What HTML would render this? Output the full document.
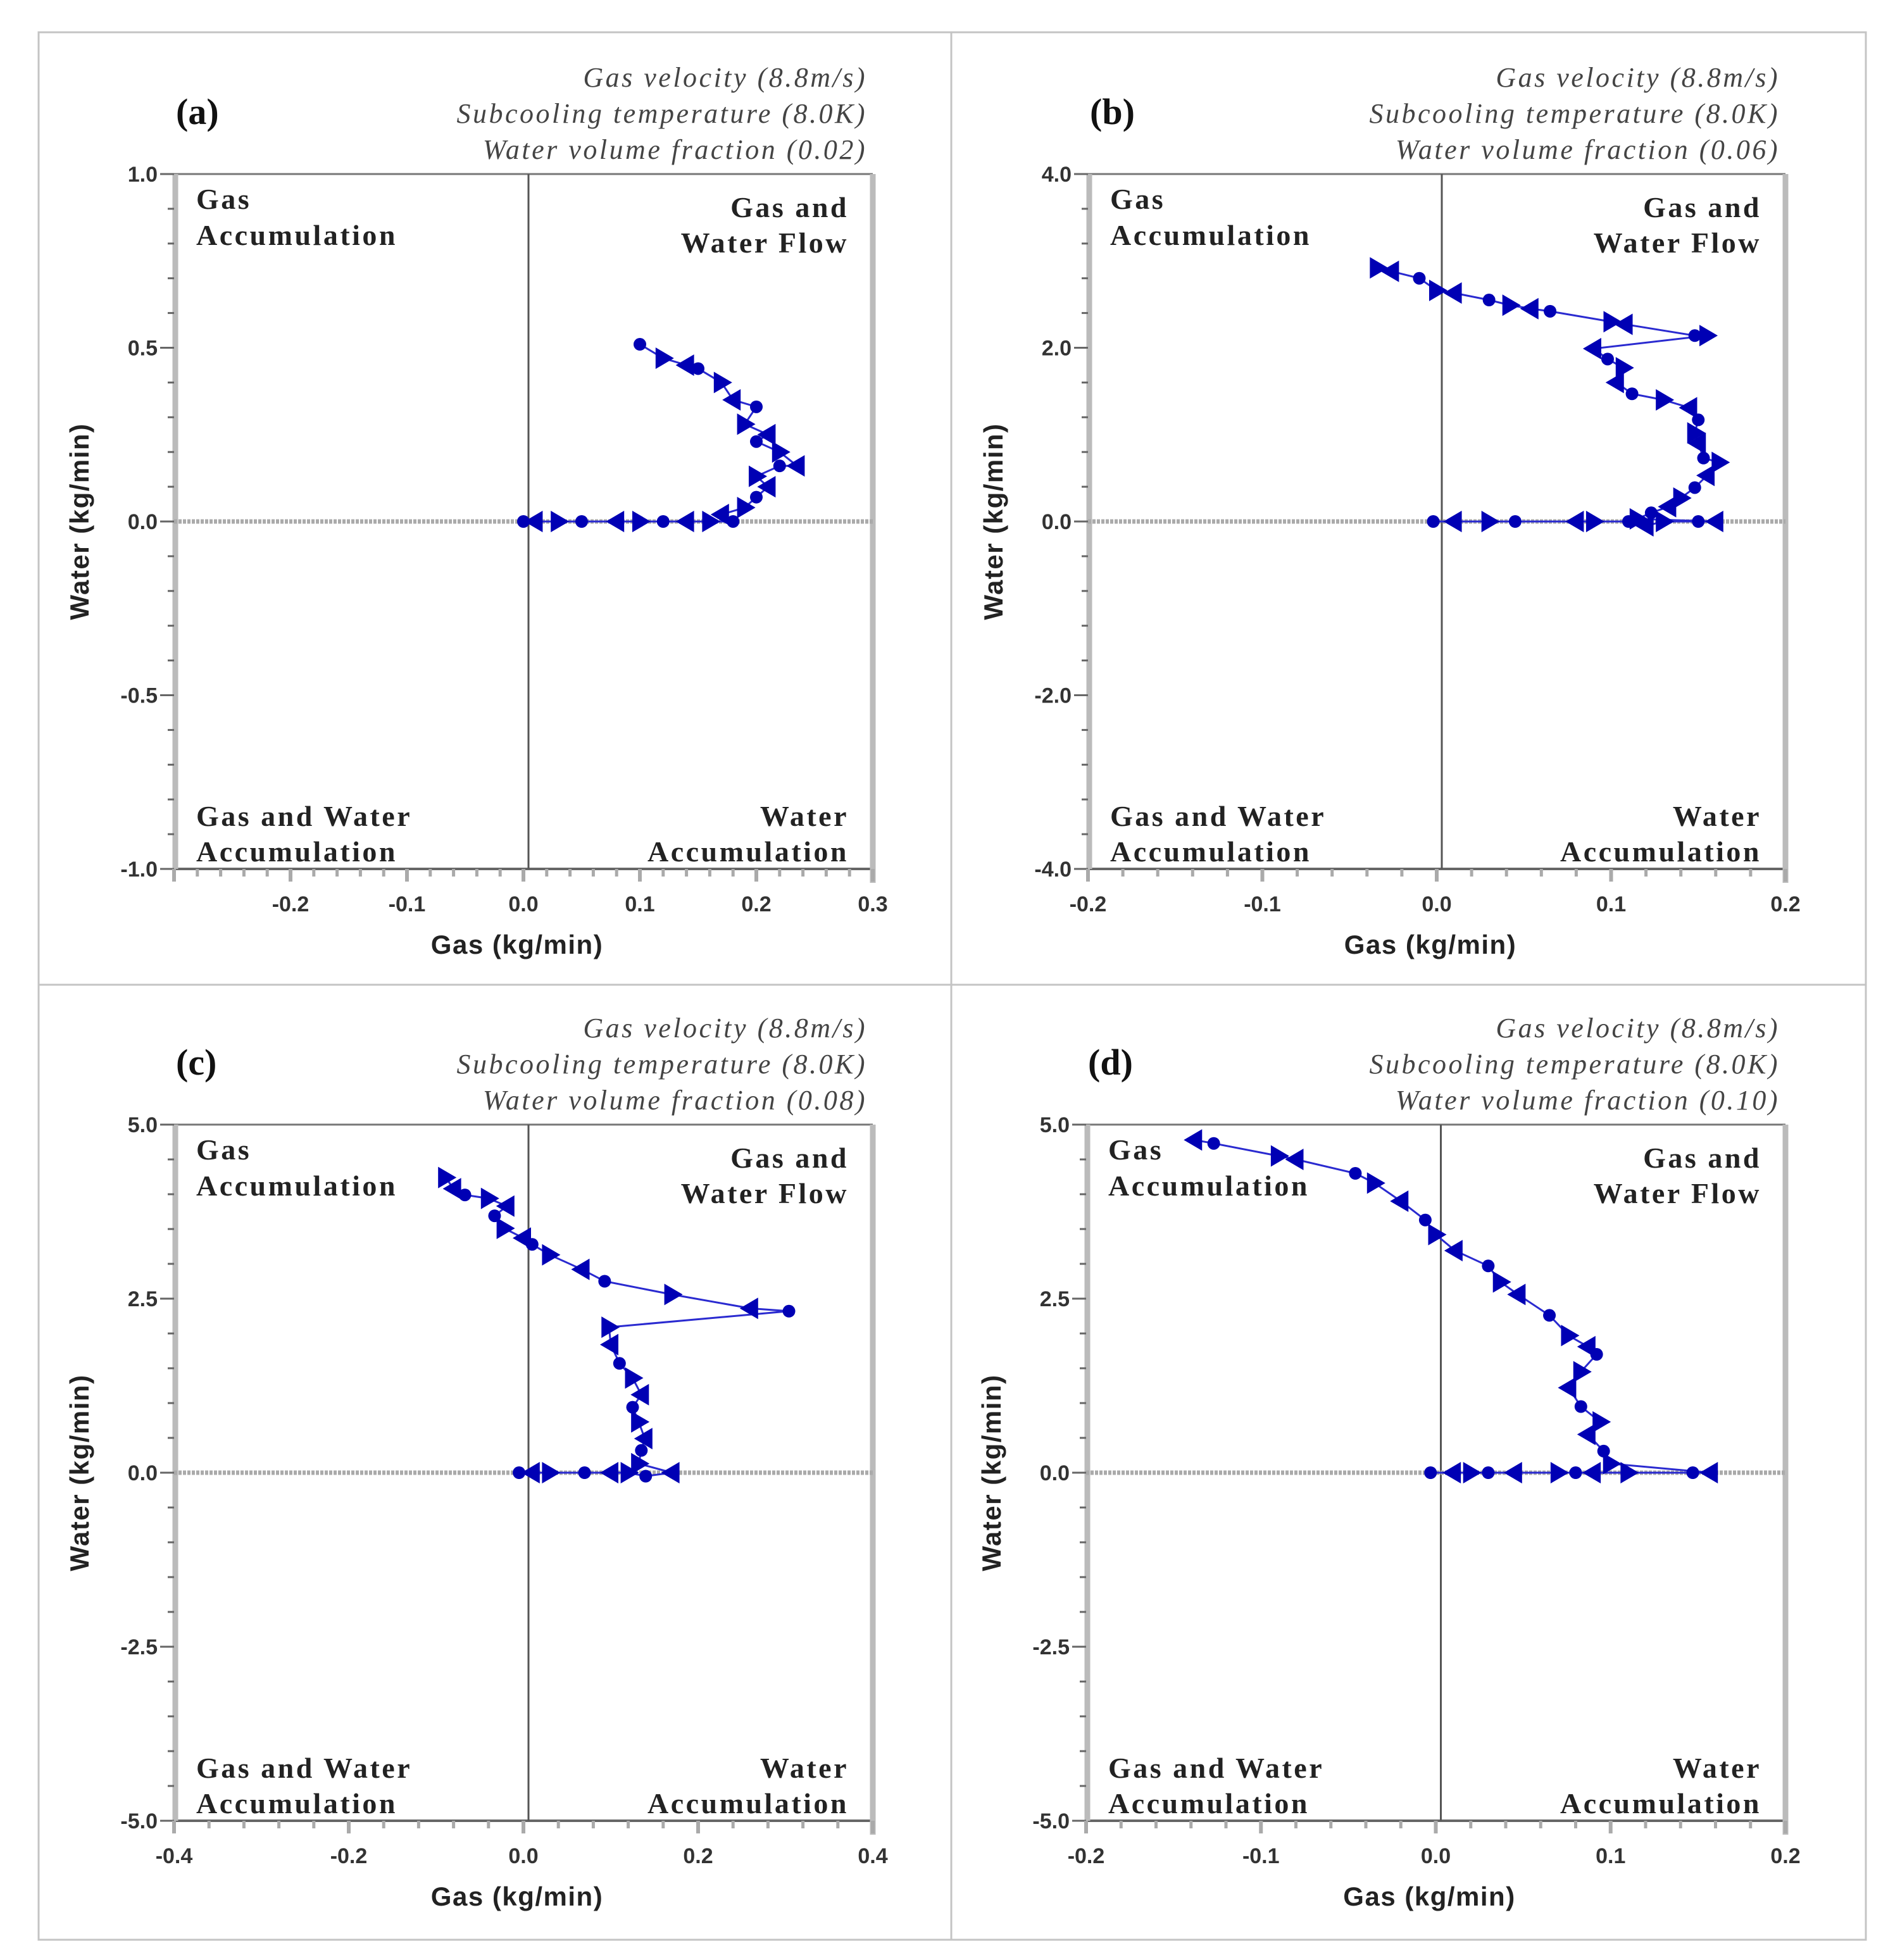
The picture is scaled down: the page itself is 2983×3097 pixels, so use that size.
<!DOCTYPE html>
<html><head><meta charset="utf-8">
<style>
html,body{margin:0;padding:0;background:#fff;}
svg{display:block;}
.ann{font-family:"Liberation Serif",serif;font-style:italic;font-size:44px;letter-spacing:3.5px;fill:#444;}
.plab{font-family:"Liberation Serif",serif;font-weight:bold;font-size:58px;fill:#111;}
.quad{font-family:"Liberation Serif",serif;font-weight:bold;font-size:46px;letter-spacing:3.5px;fill:#222;}
.tick{font-family:"Liberation Sans",sans-serif;font-weight:bold;font-size:34px;fill:#333;}
.atitle{font-family:"Liberation Sans",sans-serif;font-weight:bold;font-size:42px;letter-spacing:1.5px;fill:#222;}
</style></head>
<body>
<svg id="chart" width="2983" height="3097" viewBox="0 0 2983 3097" xmlns="http://www.w3.org/2000/svg">
<g stroke="#c4c4c4" stroke-width="3" fill="none">
<rect x="61" y="51" width="2887" height="3014"/>
<line x1="1503" y1="51" x2="1503" y2="3065"/>
<line x1="61" y1="1556" x2="2948" y2="1556"/>
</g>
</svg>
<script>
// ---- data (gas kg/min, water kg/min) ----
const gasA=[0,0.01,0.03,0.05,0.08,0.1,0.12,0.14,0.16,0.18,0.17,0.19,0.2,0.21,0.2,0.22,0.235,0.22,0.2,0.21,0.19,0.2,0.18,0.17,0.15,0.14,0.12,0.1];
const waterA=[0,0,0,0,0,0,0,0,0,0,0.02,0.04,0.07,0.1,0.13,0.16,0.16,0.2,0.23,0.25,0.28,0.33,0.35,0.4,0.44,0.45,0.47,0.51];
const gasB=[-0.002,0.01,0.03,0.045,0.08,0.09,0.11,0.12,0.13,0.15,0.16,0.115,0.123,0.133,0.14,0.148,0.155,0.162,0.153,0.15,0.148,0.15,0.145,0.13,0.112,0.103,0.107,0.098,0.09,0.155,0.148,0.108,0.1,0.065,0.054,0.042,0.03,0.01,0,-0.01,-0.026,-0.034];
const waterB=[0,0,0,0,0,0,0,-0.05,0,0,0,0.03,0.1,0.17,0.27,0.39,0.53,0.68,0.73,0.9,1.02,1.17,1.31,1.4,1.47,1.6,1.77,1.87,1.99,2.14,2.14,2.27,2.3,2.42,2.45,2.49,2.55,2.63,2.66,2.8,2.88,2.92];
const gasC=[-0.005,0.01,0.03,0.07,0.1,0.12,0.14,0.17,0.132,0.135,0.139,0.132,0.125,0.135,0.125,0.11,0.1,0.098,0.304,0.26,0.17,0.093,0.067,0.03,0.01,0,-0.022,-0.033,-0.019,-0.04,-0.067,-0.08,-0.089];
const waterC=[0,0,0,0,0,0,-0.05,0,0.13,0.32,0.49,0.73,0.94,1.12,1.36,1.57,1.84,2.09,2.32,2.36,2.56,2.75,2.92,3.13,3.28,3.37,3.51,3.69,3.83,3.94,3.99,4.08,4.24];
const gasD=[-0.003,0.01,0.02,0.03,0.045,0.07,0.08,0.09,0.11,0.147,0.157,0.1,0.096,0.087,0.094,0.083,0.076,0.083,0.092,0.087,0.076,0.065,0.047,0.037,0.03,0.011,0,-0.006,-0.02,-0.035,-0.046,-0.08,-0.09,-0.127,-0.138];
const waterD=[0,0,0,0,0,0,0,0,0,0,0,0.13,0.31,0.55,0.73,0.95,1.22,1.45,1.7,1.81,1.97,2.26,2.56,2.74,2.97,3.19,3.42,3.63,3.9,4.16,4.3,4.5,4.55,4.73,4.78];
const ticksXA=["-0.2","-0.1","0.0","0.1","0.2","0.3"];
const ticksYA=["1.0","0.5","0.0","-0.5","-1.0"];
const ticksXB=["-0.2","-0.1","0.0","0.1","0.2"];
const ticksYB=["4.0","2.0","0.0","-2.0","-4.0"];
const ticksXC=["-0.4","-0.2","0.0","0.2","0.4"];
const ticksYCD=["5.0","2.5","0.0","-2.5","-5.0"];
const panelLabels=["(a)","(b)","(c)","(d)"];
const fractions=["0.02","0.06","0.08","0.10"];

const NS="http://www.w3.org/2000/svg";
const svg=document.getElementById('chart');
function mk(tag,attrs,parent,text){const e=document.createElementNS(NS,tag);for(const k in attrs)e.setAttribute(k,attrs[k]);if(text!==undefined)e.textContent=text;(parent||svg).appendChild(e);return e;}

const panels=[
 {id:'a',L:275,R:1379,T:275,B:1373,x0:-0.3,x1:0.3,y0:-1,y1:1,xt:ticksXA,yt:ticksYA,gx:gasA,wy:waterA},
 {id:'b',L:1719,R:2821,T:275,B:1373,x0:-0.2,x1:0.2,y0:-4,y1:4,xt:ticksXB,yt:ticksYB,gx:gasB,wy:waterB},
 {id:'c',L:275,R:1379,T:1777,B:2877,x0:-0.4,x1:0.4,y0:-5,y1:5,xt:ticksXC,yt:ticksYCD,gx:gasC,wy:waterC},
 {id:'d',L:1716,R:2821,T:1777,B:2877,x0:-0.2,x1:0.2,y0:-5,y1:5,xt:ticksXB,yt:ticksYCD,gx:gasD,wy:waterD}
];

panels.forEach((p,pi)=>{
 const g=mk('g',{});
 
 
 const sx=v=>p.L+(v-p.x0)/(p.x1-p.x0)*(p.R-p.L);
 const sy=v=>p.B-(v-p.y0)/(p.y1-p.y0)*(p.B-p.T);
 const ar=p.R-9, at=p.T-138;
 ["Gas velocity (8.8m/s)","Subcooling temperature (8.0K)","Water volume fraction ("+fractions[pi]+")"].forEach((t,i)=>{
  const e=mk('text',{x:ar,y:at+i*57,'text-anchor':'end',class:'ann'},g,t);
  
  
 });
 const pl=mk('text',{x:p.L+3,y:p.T-79,class:'plab'},g,panelLabels[pi]);
 
 
 mk('line',{x1:p.L,y1:p.T,x2:p.R,y2:p.T,stroke:'#777','stroke-width':3},g);
 mk('line',{x1:p.L,y1:p.B,x2:p.R,y2:p.B,stroke:'#666','stroke-width':4},g);
 mk('line',{x1:p.L+2,y1:p.T,x2:p.L+2,y2:p.B,stroke:'#bbb','stroke-width':9},g);
 mk('line',{x1:p.R,y1:p.T,x2:p.R,y2:p.B+22,stroke:'#bbb','stroke-width':9},g);
 const ny=p.yt.length-1;
 for(let i=0;i<=ny*5;i++){
  const v=p.y1-(p.y1-p.y0)*i/(ny*5), y=sy(v), major=i%5===0;
  mk('line',{x1:p.L-(major?22:10),y1:y,x2:p.L,y2:y,stroke:'#666','stroke-width':3},g);
 }
 p.yt.forEach((t,i)=>{
  const v=p.y1-(p.y1-p.y0)*i/ny;
  const e=mk('text',{x:p.L-26,y:sy(v)+12,'text-anchor':'end',class:'tick'},g,t);
  
  
 });
 const step=parseFloat(p.xt[1])-parseFloat(p.xt[0]);
 for(let v=Math.ceil(p.x0/(step/5)-1e-6)*(step/5);v<=p.x1+1e-9;v+=step/5){
  const k=Math.round(v/(step/5)), major=k%5===0;
  mk('line',{x1:sx(v),y1:p.B,x2:sx(v),y2:p.B+(major?20:12),stroke:'#aaa','stroke-width':major?6:5},g);
 }
 p.xt.forEach(t=>{
  const e=mk('text',{x:sx(parseFloat(t)),y:p.B+67,'text-anchor':'middle',class:'tick'},g,t);
  
  
 });
 const xt=mk('text',{x:(p.L+p.R)/2-10,y:p.B+134,'text-anchor':'middle',class:'atitle'},g,'Gas (kg/min)');
 
 
 const cy=(p.T+p.B)/2, cx=p.L-135;
 const yt=mk('text',{x:cx,y:cy,'text-anchor':'middle',class:'atitle',transform:'rotate(-90 '+cx+' '+cy+')'},g,'Water (kg/min)');
 
 
 mk('line',{x1:sx(0)+8,y1:p.T,x2:sx(0)+8,y2:p.B,stroke:'#555','stroke-width':3},g);
 mk('line',{x1:p.L,y1:sy(0),x2:p.R,y2:sy(0),stroke:'#aaa','stroke-width':7,'stroke-dasharray':'5 2'},g);
 const ql=[[p.L+35,p.T+55,'start','Gas'],[p.L+35,p.T+112,'start','Accumulation'],
  [p.R-38,p.T+68,'end','Gas and'],[p.R-38,p.T+124,'end','Water Flow'],
  [p.L+35,p.B-68,'start','Gas and Water'],[p.L+35,p.B-12,'start','Accumulation'],
  [p.R-38,p.B-68,'end','Water'],[p.R-38,p.B-12,'end','Accumulation']];
 ql.forEach(q=>{
  const e=mk('text',{x:q[0],y:q[1],'text-anchor':q[2],class:'quad'},g,q[3]);
  
  
 });
 const pts=p.gx.map((v,i)=>sx(v)+','+sy(p.wy[i])).join(' ');
 const line=mk('polyline',{points:pts,fill:'none',stroke:'#2a2ad0','stroke-width':3},g);
 
 
 p.gx.forEach((v,i)=>{
  const x=sx(v), y=sy(p.wy[i]), t=i%3;
  let m;
  if(t===0){m=mk('circle',{cx:x,cy:y,r:10,fill:'#0000b4'},g);}
  else if(t===1){m=mk('polygon',{points:(x-17)+','+y+' '+(x+12)+','+(y-17)+' '+(x+12)+','+(y+17),fill:'#0000b4'},g);}
  else {m=mk('polygon',{points:(x+17)+','+y+' '+(x-12)+','+(y-17)+' '+(x-12)+','+(y+17),fill:'#0000b4'},g);}
  
  
 });
});
</script>
</body></html>
